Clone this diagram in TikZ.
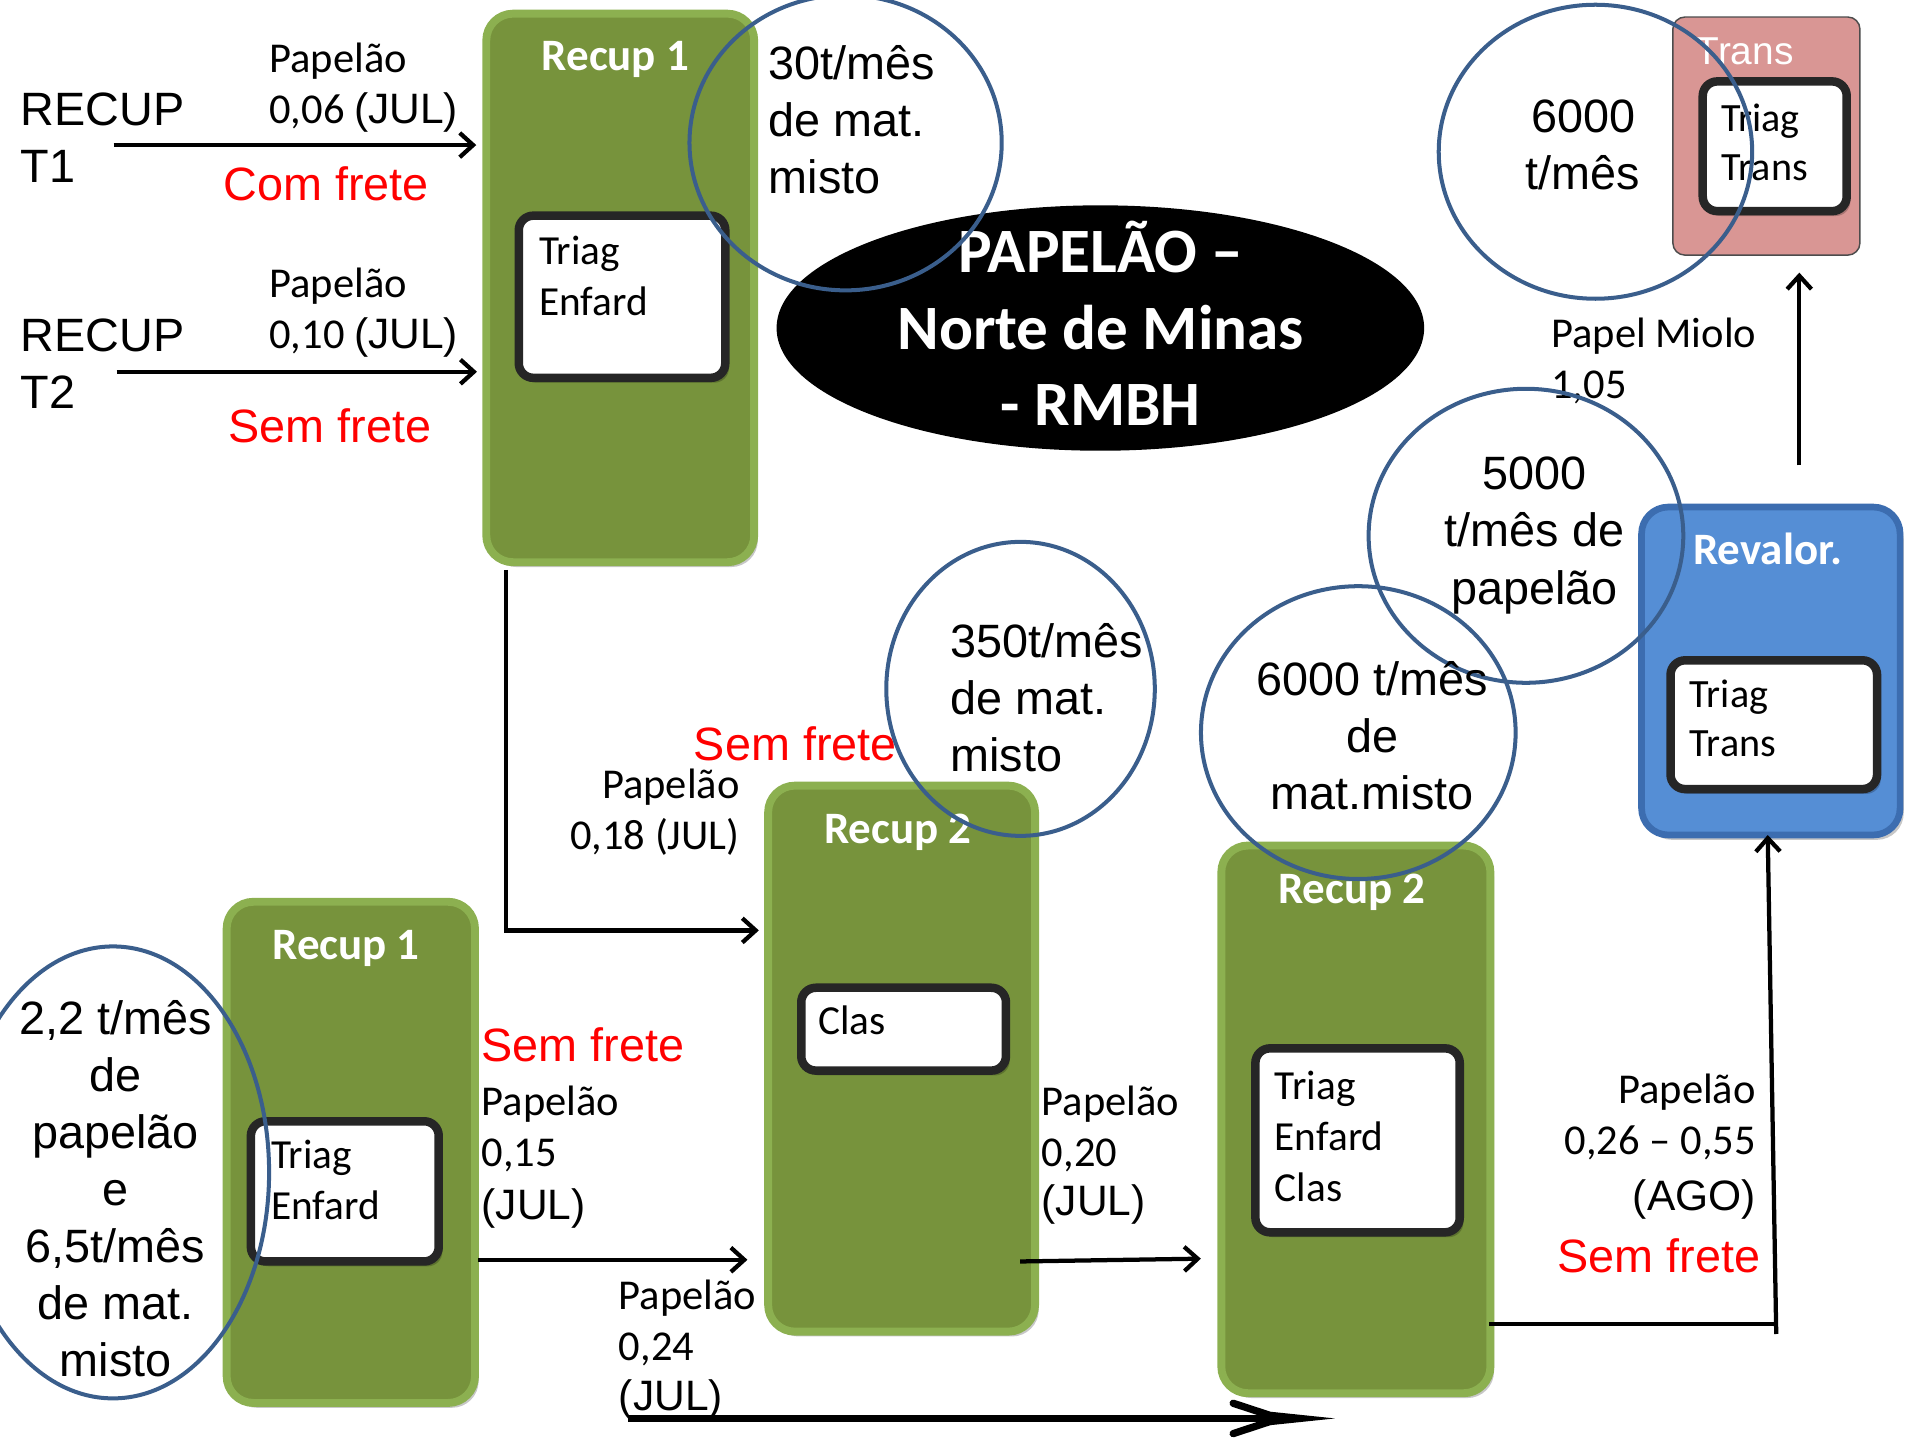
\documentclass[tikz,border=0pt]{standalone}
\usepackage{fontspec}
\setmainfont{Liberation Sans}
\newfontfamily\calfont{Carlito}
\usetikzlibrary{shapes.geometric,arrows.meta,shadows}
\definecolor{gfill}{HTML}{77933C}
\definecolor{gline}{HTML}{8CB050}
\definecolor{bfill}{HTML}{558ED5}
\definecolor{bline}{HTML}{3C6DB0}
\definecolor{pfill}{HTML}{D99694}
\definecolor{cline}{HTML}{3A5E8C}
\definecolor{wline}{HTML}{262626}
\newcommand{\MLl}[1]{\vtop{\halign{##\hfil\cr #1\crcr}}}
\newcommand{\MLc}[1]{\vtop{\halign{\hfil##\hfil\cr #1\crcr}}}
\newcommand{\MLr}[1]{\vtop{\halign{\hfil##\cr #1\crcr}}}
\begin{document}
\begin{tikzpicture}[x=1pt,y=-1pt,
  shad/.style={drop shadow={shadow xshift=3pt,shadow yshift=-4pt,opacity=.22,fill=black}},
  gbox/.style={draw=gline,line width=6.5pt,fill=gfill,rounded corners=22pt,inner sep=0,anchor=north west,shad},
  wbox/.style={draw=wline,line width=7pt,fill=white,rounded corners=12pt,inner sep=0,anchor=north west,shad},
  circ/.style={ellipse,draw=cline,line width=3.3pt,inner sep=0},
  tA/.style={inner sep=0,font=\fontsize{38.5}{47}\selectfont},
  tAs/.style={inner sep=0,font=\fontsize{35}{42}\selectfont},
  tC/.style={inner sep=0,font=\calfont\fontsize{35}{42}\selectfont},
  tCi/.style={inner sep=0,font=\calfont\fontsize{34}{42}\selectfont},
  tCs/.style={inner sep=0,font=\calfont\fontsize{33}{40.5}\selectfont},
  tB/.style={inner sep=0,text=white,font=\calfont\bfseries\fontsize{37}{44}\selectfont},
  red/.style={text=red},
  arr/.style={line width=3.5pt,-{Straight Barb[length=11pt,width=20pt]}},
  ln/.style={line width=3.5pt}]
\useasboundingbox (0,0) rectangle (1568,1185);

% ---------- boxes ----------
\node[gbox,minimum width=220.5pt,minimum height=451.5pt] (r1a) at (397,8) {};
\node[gbox,minimum width=219.7pt,minimum height=449.4pt] (r2a) at (629,643.4) {};
\node[gbox,minimum width=221.5pt,minimum height=450.8pt] (r2b) at (1002,692.7) {};
\node[gbox,minimum width=204.4pt,minimum height=412.5pt] (r1b) at (183.3,739) {};
\node[draw=black!70,line width=1.2pt,fill=pfill,rounded corners=10pt,inner sep=0,anchor=north west,
      minimum width=154pt,minimum height=196pt] (trans) at (1376.3,13.4) {};
\node[draw=bline,line width=5.5pt,fill=bfill,rounded corners=22pt,inner sep=0,anchor=north west,shad,
      minimum width=212.8pt,minimum height=269.9pt] (rev) at (1348.4,414.6) {};

\node[wbox,minimum width=170pt,minimum height=133.5pt] (r1ain) at (423.5,174) {};
\node[wbox,minimum width=168.5pt,minimum height=68.2pt] (r2ain) at (656,809.5) {};
\node[wbox,minimum width=168.2pt,minimum height=151.4pt] (r2bin) at (1029.8,859.4) {};
\node[wbox,minimum width=154.6pt,minimum height=115.4pt] (r1bin) at (203,919.4) {};
\node[wbox,minimum width=118.5pt,minimum height=106.8pt] (transin) at (1398,63.5) {};
\node[wbox,minimum width=170pt,minimum height=106pt] (revin) at (1371.5,540) {};

% title ellipse
\node[ellipse,fill=black,inner sep=0,minimum width=533pt,minimum height=202pt] (title) at (905.7,270) {};
\node[inner sep=0,text=white,font=\calfont\bfseries\fontsize{52}{63}\selectfont,anchor=base] (titletxt) at (906,224.4)
  {\MLc{PAPELÃO –\cr Norte de Minas\cr - RMBH}};

% box titles
\node[tB,anchor=base] (r1at) at (506.5,57.8) {Recup 1};
\node[tB,anchor=base] (r2at) at (739,694.2) {Recup 2};
\node[tB,anchor=base] (r2bt) at (1112.7,743.6) {Recup 2};
\node[tB,anchor=base] (r1bt) at (284.8,789.8) {Recup 1};
\node[tB,anchor=base] (revt) at (1455,465) {Revalor.};
\node[inner sep=0,text=white,font=\fontsize{32}{38}\selectfont,anchor=base west] (transt) at (1395.5,53.3) {Trans};

% inner box texts
\node[tCi,anchor=base west] (r1aintx) at (443.6,217.7) {\MLl{Triag\cr Enfard}};
\node[tCi,anchor=base west] (r2aintx) at (673.4,851.3) {Clas};
\node[tCi,anchor=base west] (r2bintx) at (1049.1,905.2) {\MLl{Triag\cr Enfard\cr Clas}};
\node[tCi,anchor=base west] (r1bintx) at (223,962) {\MLl{Triag\cr Enfard}};
\node[tCs,anchor=base west] (transintx) at (1416.8,108.4) {\MLl{Triag\cr Trans}};
\node[tCs,anchor=base west] (revintx) at (1390.7,582.4) {\MLl{Triag\cr Trans}};

% left side labels
\node[tA,anchor=base west] (t1) at (17,103.5) {\MLl{RECUP\cr T1}};
\node[tA,anchor=base west] (t2) at (17,289.3) {\MLl{RECUP\cr T2}};
\node[tC,anchor=base west] (p1) at (221.5,59.4) {\MLl{Papelão\cr 0,06 {\rmfamily(JUL)}}};
\node[tC,anchor=base west] (p2) at (221.5,245.1) {\MLl{Papelão\cr 0,10 {\rmfamily(JUL)}}};
\node[tA,red,anchor=base west] (f1) at (183.7,165.3) {Com frete};
\node[tA,red,anchor=base west] (f2) at (187.9,363.9) {Sem frete};

% middle labels
\node[tA,red,anchor=base west] (f3) at (571,626.3) {Sem frete};
\node[tC,anchor=base east] (p3) at (608.9,657.2) {\MLr{Papelão\cr 0,18 (JUL)}};
\node[tA,red,anchor=base west] (f4) at (396.3,873.4) {Sem frete};
\node[tC,anchor=base west] (p4) at (396.3,918.2) {\MLl{Papelão\cr 0,15}};
\node[tAs,anchor=base west] (p4j) at (396.3,1003.6) {(JUL)};
\node[tC,anchor=base west] (p5) at (509.2,1077.5) {\MLl{Papelão\cr 0,24}};
\node[tAs,anchor=base west] (p5j) at (509.2,1160.7) {(JUL)};
\node[tC,anchor=base west] (p6) at (857.3,918.2) {\MLl{Papelão\cr 0,20}};
\node[tAs,anchor=base west] (p6j) at (857.3,1000.4) {(JUL)};
\node[tC,anchor=base east] (p7) at (1445.3,908) {\MLr{Papelão\cr 0,26 – 0,55}};
\node[tAs,anchor=base east] (p7j) at (1445.3,996.7) {(AGO)};
\node[tA,red,anchor=base east] (f5) at (1449,1047.6) {Sem frete};
\node[tC,anchor=base west] (pm) at (1276.7,285.9) {\MLl{Papel Miolo\cr 1,05}};

% ---------- connectors ----------
\coordinate (t1s) at (93.5,119.4);  \coordinate (t1e) at (392,119.4);
\coordinate (t2s) at (96,306);      \coordinate (t2e) at (392.6,306);
\coordinate (dA) at (416.2,469);    \coordinate (dB) at (416.2,765.8);  \coordinate (dC) at (624.6,765.8);
\coordinate (bA) at (393.7,1036.9); \coordinate (bB) at (615.2,1036.9);
\coordinate (cA) at (839.7,1038.3); \coordinate (cB) at (988.4,1036);
\coordinate (eA) at (1225.8,1090);  \coordinate (eB) at (1462,1090);
\coordinate (eC) at (1462,1098);    \coordinate (eD) at (1455,687.3);
\coordinate (uA) at (1481,383);     \coordinate (uB) at (1481,224.4);
\coordinate (gA) at (517,1167.5);   \coordinate (gB) at (1060,1167.5);
\coordinate (gT) at (1098.8,1167.5);

\draw[arr] (t1s) -- (t1e);
\draw[arr] (t2s) -- (t2e);
\draw[arr] (dA) -- (dB) -- (dC);
\draw[arr] (bA) -- (bB);
\draw[arr] (cA) -- (cB);
\draw[ln] (eA) -- (eB);
\draw[arr] (eC) -- (eD);
\draw[arr] (uA) -- (uB);
% big bottom arrow
\draw[line width=5.5pt] (gA) -- (gB);
\draw[line width=6pt,line cap=round] (1015,1155) -- (1053,1167.5) -- (1015,1180);
\fill (1046,1162) -- (gT) -- (1046,1173) -- cycle;

% ---------- circles ----------
\node[circ,minimum width=257pt,minimum height=243pt] (c30) at (696,117.5) {};
\node[circ,minimum width=258pt,minimum height=242pt] (c6000) at (1313.2,124.9) {};
\node[circ,minimum width=259pt,minimum height=242pt] (c5000) at (1256,441) {};
\node[circ,minimum width=221pt,minimum height=242pt] (c350) at (840,567) {};
\node[circ,minimum width=259pt,minimum height=241pt] (c6000m) at (1118,603) {};
\node[circ,minimum width=257pt,minimum height=372pt] (c22) at (93,965) {};

\node[tA,anchor=base west] (c30t) at (632.5,65.5) {\MLl{30t/mês\cr de mat.\cr misto}};
\node[tA,anchor=base] (c6000t) at (1303,109.2) {\MLc{6000\cr t/mês}};
\node[tA,anchor=base] (c5000t) at (1263,403.2) {\MLc{5000\cr t/mês de\cr papelão}};
\node[tA,anchor=base west] (c350t) at (782,541) {\MLl{350t/mês\cr de mat.\cr misto}};
\node[tA,anchor=base] (c6000mt) at (1129.5,572.5) {\MLc{6000 t/mês\cr de\cr mat.misto}};
\node[tA,anchor=base] (c22t) at (95.2,851.2) {\MLc{2,2 t/mês\cr de\cr papelão\cr e\cr 6,5t/mês\cr de mat.\cr misto}};
\end{tikzpicture}
\end{document}
